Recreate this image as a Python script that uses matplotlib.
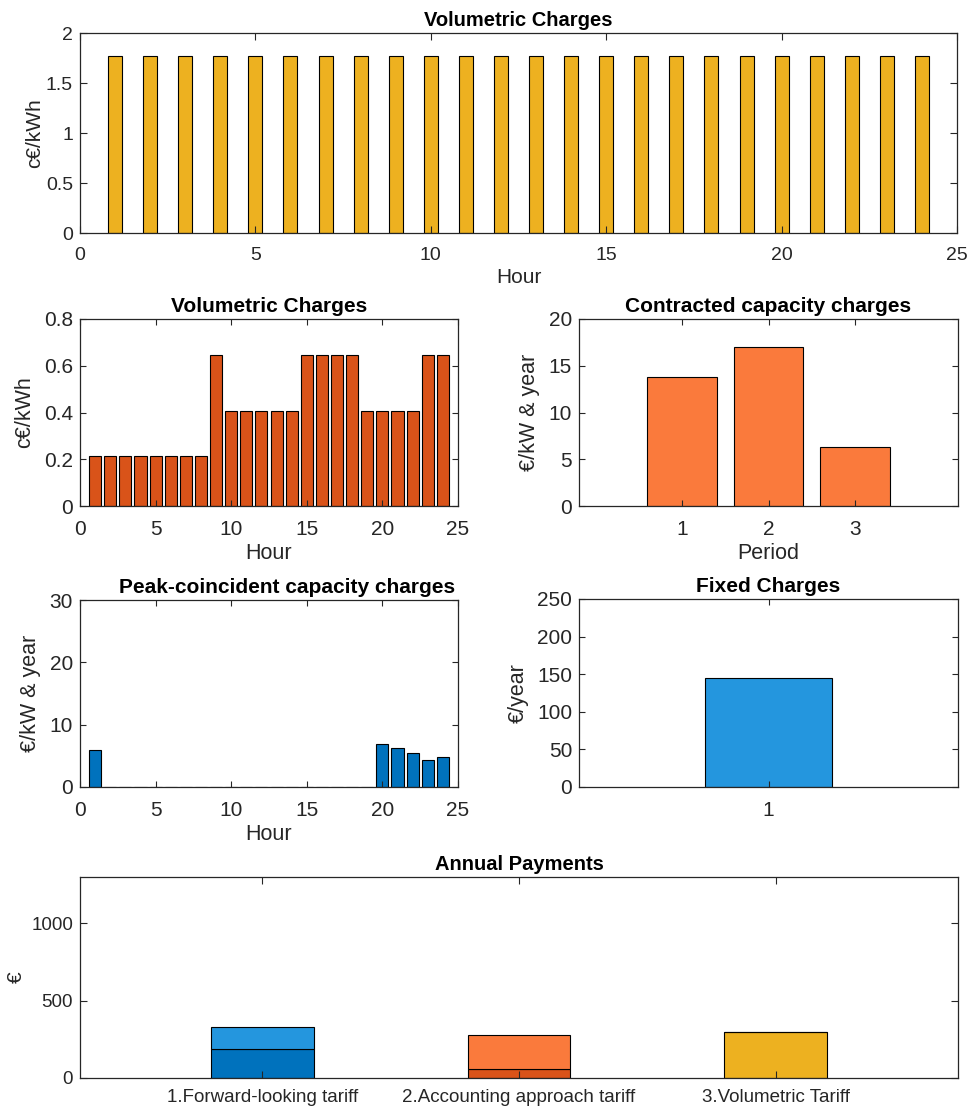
#!/usr/bin/env python3
"""Network tariff components and resulting annual payments (six panels)."""
import numpy as np
import matplotlib
matplotlib.use("Agg")
import matplotlib.pyplot as plt

# ---- data ----
hours = np.arange(1, 25)
flat_volumetric = [1.77] * 24  # c€/kWh, volumetric tariff
tou_volumetric = [0.215] * 8 + [0.645] + [0.405] * 5 + [0.645] * 4 + [0.405] * 4 + [0.645] * 2
periods = [1, 2, 3]
contracted_capacity = [13.8, 17.0, 6.27]  # €/kW & year
peak_coincident = [6.0] + [0.0] * 18 + [6.9, 6.25, 5.45, 4.4, 4.75]  # €/kW & year
fixed_charge = [145.0]  # €/year

tariff_names = ["1.Forward-looking tariff", "2.Accounting approach tariff", "3.Volumetric Tariff"]
pay_lower = [186.0, 60.0, 295.0]   # peak-coincident / volumetric / volumetric
pay_upper = [145.0, 221.0, 0.0]    # fixed / contracted capacity / none

# MATLAB-like colours
C_YELLOW = "#EDB120"
C_DKORANGE = "#D95319"
C_LTORANGE = "#FA7A3C"
C_DKBLUE = "#0072BD"
C_LTBLUE = "#2496DE"
AX_GREY = "#262626"

plt.rcParams["font.family"] = ["Liberation Sans", "DejaVu Sans"]

W, H = 971, 1109
fig = plt.figure(figsize=(W / 100, H / 100), dpi=100)


def make_axes(x0, y0, x1, y1):
    return fig.add_axes([x0 / W, (H - y1) / H, (x1 - x0) / W, (y1 - y0) / H])


def style(ax, tick_fs=15, ticklen=4):
    for s in ax.spines.values():
        s.set_color(AX_GREY)
        s.set_linewidth(0.9)
    ax.tick_params(direction="in", top=True, right=True, length=ticklen,
                   width=0.8, color=AX_GREY, labelcolor=AX_GREY,
                   labelsize=tick_fs)
    ax.tick_params(axis="x", pad=10)
    ax.tick_params(axis="y", pad=5)
    ax.set_axisbelow(False)


def labels(ax, title, xlabel, ylabel, fs=15.5, tfs=15, title_x=0.5):
    ax.set_title(title, fontsize=tfs, fontweight="bold", color="black", pad=5, x=title_x)
    if xlabel:
        ax.set_xlabel(xlabel, fontsize=fs, color=AX_GREY, labelpad=3)
    ax.set_ylabel(ylabel, fontsize=fs, color=AX_GREY, labelpad=6)


bar_kw = dict(edgecolor="black", linewidth=0.8, zorder=2)

# top: flat volumetric charges
ax = make_axes(80, 33, 957, 233)
ax.bar(hours, flat_volumetric, width=0.4, color=C_YELLOW, **bar_kw)
ax.set_xlim(0, 25)
ax.set_ylim(0, 2)
ax.set_xticks(range(0, 26, 5))
ax.set_yticks([0, 0.5, 1, 1.5, 2])
ax.set_yticklabels(["0", "0.5", "1", "1.5", "2"])
style(ax, tick_fs=14, ticklen=5)
labels(ax, "Volumetric Charges", "Hour", "c€/kWh", fs=15, tfs=14.5)
ax.yaxis.set_label_coords(-0.041, 0.5)

# row 2 left: time-of-use volumetric charges
ax = make_axes(80, 319, 458, 506)
ax.bar(hours, tou_volumetric, width=0.8, color=C_DKORANGE, **bar_kw)
ax.set_xlim(0, 25)
ax.set_ylim(0, 0.8)
ax.set_xticks(range(0, 26, 5))
ax.set_yticks([0, 0.2, 0.4, 0.6, 0.8])
ax.set_yticklabels(["0", "0.2", "0.4", "0.6", "0.8"])
style(ax)
labels(ax, "Volumetric Charges", "Hour", "c€/kWh")

# row 2 right: contracted capacity charges
ax = make_axes(579, 319, 958, 506)
ax.bar(periods, contracted_capacity, width=0.8, color=C_LTORANGE, **bar_kw)
ax.set_xlim(-0.19, 4.19)
ax.set_ylim(0, 20)
ax.set_xticks(periods)
ax.set_yticks([0, 5, 10, 15, 20])
style(ax)
labels(ax, "Contracted capacity charges", "Period", "€/kW & year")

# row 3 left: peak-coincident capacity charges
ax = make_axes(80, 600, 458, 787)
ax.bar(hours, peak_coincident, width=0.8, color=C_DKBLUE, **bar_kw)
ax.set_xlim(0, 25)
ax.set_ylim(0, 30)
ax.set_xticks(range(0, 26, 5))
ax.set_yticks([0, 10, 20, 30])
style(ax)
labels(ax, "Peak-coincident capacity charges", "Hour", "€/kW & year", title_x=0.548)

# row 3 right: fixed charges
ax = make_axes(579, 599, 958, 787)
ax.bar([1], fixed_charge, width=0.8, color=C_LTBLUE, **bar_kw)
ax.set_xlim(-0.19, 2.19)
ax.set_ylim(0, 250)
ax.set_xticks([1])
ax.set_yticks(range(0, 251, 50))
style(ax)
labels(ax, "Fixed Charges", None, "€/year")

# bottom: annual payments per tariff design
ax = make_axes(80, 877, 958, 1078)
xpos = np.arange(1, 4)
lower_colors = [C_DKBLUE, C_DKORANGE, C_YELLOW]
upper_colors = [C_LTBLUE, C_LTORANGE, C_YELLOW]
ax.bar(xpos, pay_lower, width=0.4, color=lower_colors, **bar_kw)
ax.bar(xpos, pay_upper, width=0.4, bottom=pay_lower, color=upper_colors, **bar_kw)
ax.set_xlim(0.29, 3.71)
ax.set_ylim(0, 1300)
ax.set_xticks(xpos)
ax.set_xticklabels(tariff_names)
ax.set_yticks([0, 500, 1000])
style(ax, tick_fs=13.5, ticklen=5)
ax.tick_params(axis="x", pad=8)
labels(ax, "Annual Payments", None, "€", fs=15, tfs=14.5)
ax.yaxis.set_label_coords(-0.062, 0.5)

fig.savefig("out.png", dpi=100)
